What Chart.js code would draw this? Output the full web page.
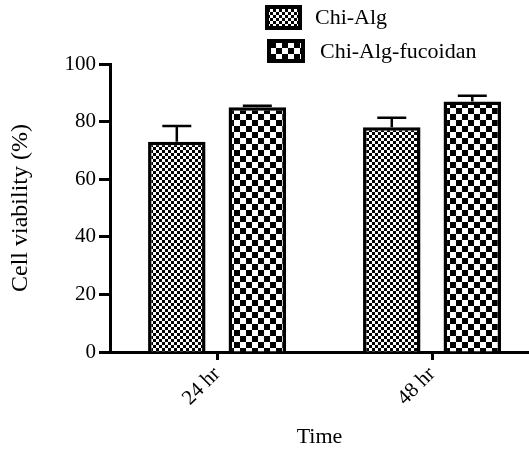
<!DOCTYPE html>
<html><head><meta charset="utf-8">
<script src="https://cdn.jsdelivr.net/npm/chart.js@4"></script>
<style>html,body{margin:0;padding:0;background:#fff}</style>
</head><body>
<canvas id="c" width="529" height="456" style="display:block;width:529px;height:456px"></canvas>
<script>
const categories = ['24 hr', '48 hr'];
const seriesNames = ['Chi-Alg', 'Chi-Alg-fucoidan'];
const chiAlg = [73, 78];
const chiAlgErr = [5.5, 3.3];
const chiAlgFucoidan = [85, 87];
const chiAlgFucoidanErr = [0.5, 2];
const yTickValues = [0, 20, 40, 60, 80, 100];

const FONT = "'Liberation Serif', 'Times New Roman', serif";
const canvas = document.getElementById('c');
const mainCtx = canvas.getContext('2d');

function checker(size) {
  const c = document.createElement('canvas');
  c.width = c.height = size * 2;
  const g = c.getContext('2d');
  g.fillStyle = '#fff'; g.fillRect(0, 0, size * 2, size * 2);
  g.fillStyle = '#000';
  g.fillRect(0, 0, size, size);
  g.fillRect(size, size, size, size);
  return mainCtx.createPattern(c, 'repeat');
}
const fineFill = checker(3);
const coarseFill = checker(6);

const errorBars = {
  id: 'errorBars',
  afterDatasetsDraw(chart) {
    const ctx = chart.ctx, ys = chart.scales.y;
    chart.data.datasets.forEach((ds, di) => {
      const meta = chart.getDatasetMeta(di);
      meta.data.forEach((bar, i) => {
        const v = ds.data[i].y, e = ds.errors[i];
        const yTop = ys.getPixelForValue(v + e);
        ctx.save();
        ctx.strokeStyle = '#000';
        ctx.lineWidth = 2.5;
        ctx.beginPath();
        ctx.moveTo(bar.x, bar.y);
        ctx.lineTo(bar.x, yTop);
        ctx.moveTo(bar.x - 14.5, yTop);
        ctx.lineTo(bar.x + 14.5, yTop);
        ctx.stroke();
        ctx.restore();
      });
    });
  }
};

const customLegend = {
  id: 'customLegend',
  afterDraw(chart) {
    const ctx = chart.ctx;
    const boxes = [
      { x: 265, y: 5, w: 37, h: 25, tx: 315 },
      { x: 267, y: 39, w: 38, h: 24, tx: 320 }
    ];
    chart.data.datasets.forEach((ds, i) => {
      const b = boxes[i];
      ctx.save();
      ctx.fillStyle = ds.backgroundColor;
      ctx.fillRect(b.x, b.y, b.w, b.h);
      ctx.strokeStyle = '#000';
      ctx.lineWidth = 4;
      ctx.strokeRect(b.x + 2, b.y + 2, b.w - 4, b.h - 4);
      ctx.fillStyle = '#000';
      ctx.font = '22px ' + FONT;
      ctx.textBaseline = 'middle';
      ctx.textAlign = 'left';
      ctx.fillText(ds.label, b.tx, b.y + b.h / 2 + 1);
      ctx.restore();
    });
  }
};

new Chart(canvas, {
  type: 'bar',
  data: {
    datasets: [
      {
        label: seriesNames[0],
        data: categories.map((c, i) => ({ x: i, y: chiAlg[i] })),
        errors: chiAlgErr,
        backgroundColor: fineFill,
        borderColor: '#000',
        borderWidth: 3.5
      },
      {
        label: seriesNames[1],
        data: categories.map((c, i) => ({ x: i, y: chiAlgFucoidan[i] })),
        errors: chiAlgFucoidanErr,
        backgroundColor: coarseFill,
        borderColor: '#000',
        borderWidth: 3.5
      }
    ]
  },
  options: {
    responsive: false,
    animation: false,
    devicePixelRatio: 1,
    categoryPercentage: 0.749,
    barPercentage: 0.714,
    layout: { padding: { top: 64, left: 0, right: 0, bottom: 0 } },
    plugins: { legend: { display: false }, tooltip: { enabled: false } },
    scales: {
      x: {
        type: 'linear',
        offset: false,
        min: -0.498,
        max: 1.451,
        afterBuildTicks: s => { s.ticks = categories.map((c, i) => ({ value: i })); },
        afterFit: s => { s.height = 104; },
        ticks: {
          callback: v => categories[v] !== undefined ? categories[v] : '',
          minRotation: 45, maxRotation: 45,
          color: '#000',
          font: { family: FONT, size: 21 },
          padding: 2,
          autoSkip: false
        },
        grid: { offset: false, drawOnChartArea: false, drawTicks: true, tickLength: 8, tickWidth: 3, tickColor: '#000' },
        border: { display: true, width: 3, color: '#000' },
        title: { display: true, text: 'Time', color: '#000', font: { family: FONT, size: 22 }, padding: { top: 4, bottom: 6 } }
      },
      y: {
        min: 0, max: 100,
        afterBuildTicks: s => { s.ticks = yTickValues.map(v => ({ value: v })); },
        afterFit: s => { s.width = 110; },
        ticks: { color: '#000', font: { family: FONT, size: 21 }, padding: 3 },
        grid: { drawOnChartArea: false, drawTicks: true, tickLength: 11, tickWidth: 3, tickColor: '#000' },
        border: { display: true, width: 3, color: '#000' },
        title: { display: true, text: 'Cell viability (%)', color: '#000', font: { family: FONT, size: 24 }, padding: { top: 6, bottom: 4 } }
      }
    }
  },
  plugins: [errorBars, customLegend]
});
</script>
</body></html>
